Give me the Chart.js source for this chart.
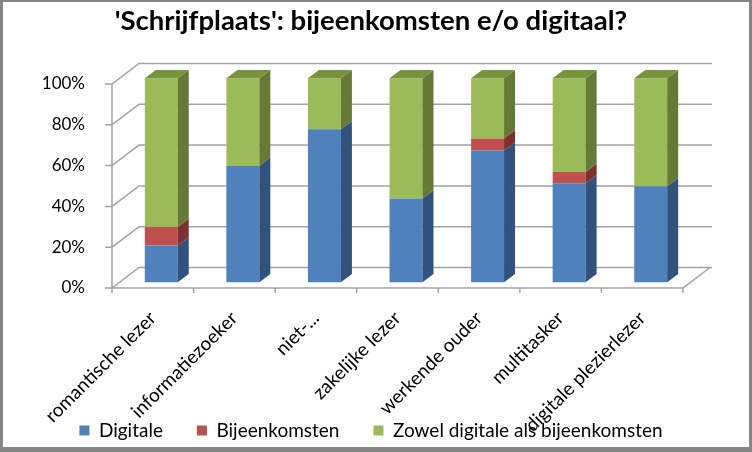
<!DOCTYPE html>
<html>
<head>
<meta charset="utf-8">
<title>Schrijfplaats</title>
<script src="https://cdn.jsdelivr.net/npm/chart.js@4/dist/chart.umd.min.js"></script>
<style>
html, body { margin: 0; padding: 0; background: #fff; }
#wrap { width: 752px; height: 452px; }
</style>
</head>
<body>
<div id="wrap"><canvas id="chart" width="752" height="452"></canvas></div>
<script>
// values (percent of each group)
const categories = ['romantische lezer', 'informatiezoeker', 'niet-...', 'zakelijke lezer', 'werkende ouder', 'multitasker', 'digitale plezierlezer'];
const digitale = [18, 57, 75, 41, 64.5, 48.5, 47];
const bijeenkomsten = [9, 0, 0, 0, 6, 5.5, 0];
const zowel = [73, 43, 25, 59, 29.5, 46, 53];
const yTicks = [0, 20, 40, 60, 80, 100];

const FONT = "'Lato', sans-serif";
const GRID = '#a3a3a3';
const WALL = { dx: 27, dy: -20.5 };     // depth of the back wall
const SHIFT = { dx: 8.5, dy: -5.8 };    // bars sit a bit behind the front axis
const DEPTH = { dx: 11, dy: -8.3 };     // depth of a bar

const colors = {
  front: ['#4f81bd', '#c0504d', '#9bbb59'],
  side: ['#30527d', '#7e302e', '#647a35'],
  top: ['#3d679c', '#9c3e3c', '#77933c']
};

// fake 3d: walls behind, side and top faces after the bars
const depth3d = {
  id: 'depth3d',
  beforeDatasetsDraw(chart) {
    const ctx = chart.ctx;
    const a = chart.chartArea;
    const ys = chart.scales.y;
    const xs = chart.scales.x;
    ctx.save();
    ctx.strokeStyle = GRID;
    ctx.lineWidth = 1.5;
    ctx.beginPath();
    ys.ticks.forEach(t => {
      const py = ys.getPixelForValue(t.value);
      ctx.moveTo(a.left - 7, py);
      ctx.lineTo(a.left, py);
      ctx.lineTo(a.left + WALL.dx, py + WALL.dy);
      ctx.lineTo(a.right + WALL.dx + 2, py + WALL.dy);
    });
    ctx.moveTo(a.left, ys.getPixelForValue(100));
    ctx.lineTo(a.left, a.bottom);
    ctx.lineTo(a.right, a.bottom);
    ctx.lineTo(a.right + WALL.dx, a.bottom + WALL.dy);
    for (let i = 0; i <= categories.length; i++) {
      const px = xs.getPixelForValue(i - 0.5);
      ctx.moveTo(px, a.bottom);
      ctx.lineTo(px, a.bottom + 5);
    }
    ctx.stroke();
    ctx.restore();

    ctx.save();
    ctx.translate(SHIFT.dx, SHIFT.dy);
  },
  afterDatasetsDraw(chart) {
    const ctx = chart.ctx;
    const sets = chart.data.datasets;
    sets.forEach((ds, d) => {
      const meta = chart.getDatasetMeta(d);
      meta.data.forEach((bar, i) => {
        const p = bar.getProps(['x', 'y', 'base', 'width'], true);
        if (Math.abs(p.base - p.y) < 0.5) return;
        const l = p.x - p.width / 2, r = p.x + p.width / 2;
        ctx.fillStyle = colors.side[d];
        ctx.beginPath();
        ctx.moveTo(r, p.y);
        ctx.lineTo(r + DEPTH.dx, p.y + DEPTH.dy);
        ctx.lineTo(r + DEPTH.dx, p.base + DEPTH.dy);
        ctx.lineTo(r, p.base);
        ctx.closePath();
        ctx.fill();
        let isTop = true;
        for (let k = d + 1; k < sets.length; k++) {
          if (sets[k].data[i] > 0) isTop = false;
        }
        if (isTop) {
          ctx.fillStyle = colors.top[d];
          ctx.beginPath();
          ctx.moveTo(l, p.y);
          ctx.lineTo(l + DEPTH.dx, p.y + DEPTH.dy);
          ctx.lineTo(r + DEPTH.dx, p.y + DEPTH.dy);
          ctx.lineTo(r, p.y);
          ctx.closePath();
          ctx.fill();
        }
      });
    });
    ctx.restore();
  },
  afterDraw(chart) {
    const ctx = chart.ctx;
    ctx.save();
    ctx.fillStyle = '#868686';
    ctx.fillRect(0, 0, 752, 2);
    ctx.fillRect(0, 0, 3, 452);
    ctx.fillRect(749, 0, 3, 452);
    ctx.fillRect(0, 447, 752, 5);
    ctx.restore();
  }
};

const PAD = { left: 10, right: 20, top: 0, bottom: 2 };
const noClip = () => null;  // let tick labels run outside their own box, like the original

new Chart(document.getElementById('chart').getContext('2d'), {
  type: 'bar',
  data: {
    labels: categories,
    datasets: [
      { label: 'Digitale', data: digitale, backgroundColor: colors.front[0] },
      { label: 'Bijeenkomsten', data: bijeenkomsten, backgroundColor: colors.front[1] },
      { label: 'Zowel digitale als bijeenkomsten', data: zowel, backgroundColor: colors.front[2] }
    ]
  },
  options: {
    responsive: false,
    animation: false,
    devicePixelRatio: 1,
    layout: { padding: PAD },
    datasets: { bar: { categoryPercentage: 1, barPercentage: 0.404, clip: false } },
    scales: {
      x: {
        stacked: true,
        grid: { display: false },
        border: { display: false },
        ticks: {
          color: '#000',
          font: { family: FONT, size: 19 },
          minRotation: 45,
          maxRotation: 45,
          autoSkip: false,
          padding: 11
        },
        afterFit(s) {
          s.height = 452 - PAD.bottom - s.chart.legend.height - 288;
          s._computeLabelArea = noClip;
        }
      },
      y: {
        stacked: true,
        min: 0,
        max: 100,
        grid: { display: false },
        border: { display: false },
        afterBuildTicks(s) { s.ticks = yTicks.map(v => ({ value: v })); },
        ticks: {
          color: '#000',
          font: { family: FONT, size: 17 },
          padding: 19,
          callback: v => v + '%'
        },
        afterFit(s) {
          s.width = 112 - PAD.left;
          s._computeLabelArea = noClip;
        }
      },
      // empty axis on the right, it only keeps room for the back wall
      side: {
        position: 'right',
        min: 0,
        max: 100,
        grid: { display: false },
        border: { display: false },
        ticks: { display: false },
        afterFit(s) { s.width = 752 - PAD.right - 683; }
      }
    },
    plugins: {
      title: {
        display: true,
        text: "'Schrijfplaats': bijeenkomsten e/o digitaal?",
        color: '#000',
        font: { family: FONT, size: 27.5, weight: 'bold' },
        padding: { top: 5, bottom: 46 }
      },
      legend: {
        position: 'bottom',
        labels: {
          color: '#000',
          font: { family: FONT, size: 19 },
          boxWidth: 10,
          boxHeight: 10,
          padding: 34
        }
      },
      tooltip: { enabled: false }
    }
  },
  plugins: [depth3d]
});
</script>
</body>
</html>
